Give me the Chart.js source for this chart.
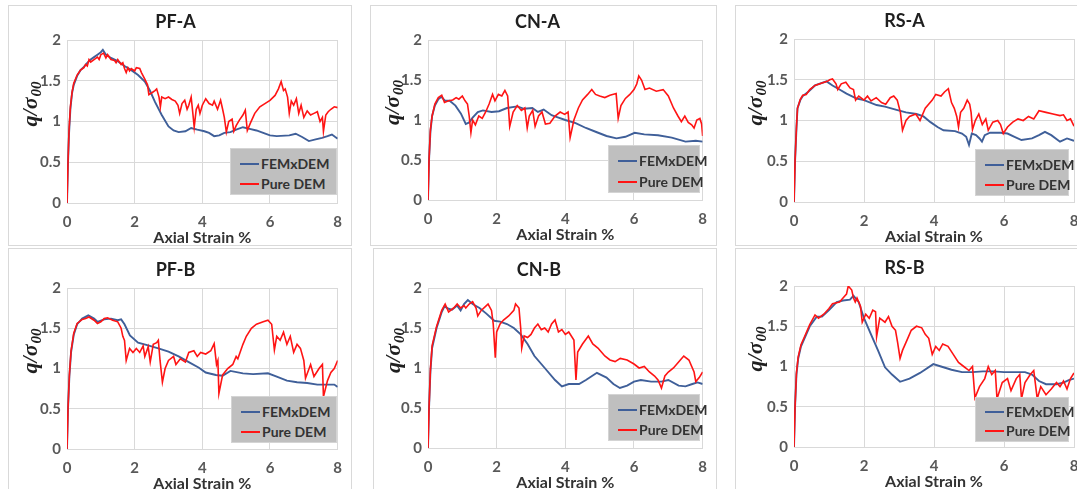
<!DOCTYPE html>
<html><head><meta charset="utf-8">
<script src="https://cdn.jsdelivr.net/npm/chart.js@4.4.1/dist/chart.umd.min.js"></script>
<style>
html,body{margin:0;padding:0;background:#fff;width:1077px;height:489px;overflow:hidden;position:relative;font-family:Lato,sans-serif;}
.box{position:absolute;border:1px solid #d9d9d9;box-sizing:border-box;background:#fff;}
canvas.cv{position:absolute;}
.leg{position:absolute;background:#bfbfbf;border:1px solid #d4d4d4;box-sizing:border-box;font:bold 14px Lato,sans-serif;color:#333;}
.leg .row{position:absolute;left:9px;height:16px;line-height:16px;display:flex;align-items:center;white-space:nowrap;}
.leg .sw{display:inline-block;width:19px;height:2px;margin-right:2px;}
</style></head><body>
<script>
// ---- data ----
const panelTitles = ['PF-A','CN-A','RS-A','PF-B','CN-B','RS-B'];
const seriesNames = ['FEMxDEM','Pure DEM'];
const xTickValues = [0,2,4,6,8];
const yTickValues = [0,0.5,1,1.5,2];
const xAxisTitle = 'Axial Strain %';
const yAxisTitle = 'q/σ';
const yAxisSub = '00';

const pfA_fem = [[0,0],[0.03,0.5],[0.06,0.85],[0.1,1.15],[0.15,1.35],[0.2,1.45],[0.3,1.56],[0.4,1.63],[0.5,1.67],[0.6,1.72],[0.7,1.76],[0.8,1.79],[0.9,1.82],[1.0,1.85],[1.06,1.88],[1.15,1.82],[1.3,1.78],[1.5,1.74],[1.7,1.68],[1.9,1.63],[2.1,1.57],[2.3,1.49],[2.45,1.38],[2.6,1.24],[2.8,1.08],[3.0,0.94],[3.15,0.89],[3.3,0.87],[3.5,0.88],[3.67,0.92],[3.85,0.9],[4.06,0.88],[4.2,0.86],[4.35,0.82],[4.5,0.83],[4.65,0.86],[4.83,0.87],[5.0,0.9],[5.2,0.93],[5.4,0.91],[5.6,0.89],[5.8,0.86],[6.0,0.83],[6.2,0.82],[6.57,0.83],[6.76,0.85],[6.95,0.81],[7.15,0.76],[7.35,0.78],[7.54,0.8],[7.7,0.82],[7.83,0.84],[7.93,0.81],[8.0,0.79]];
const pfA_dem = [[0,0],[0.03,0.5],[0.06,0.9],[0.1,1.18],[0.15,1.36],[0.2,1.47],[0.3,1.57],[0.4,1.63],[0.5,1.66],[0.55,1.7],[0.6,1.68],[0.65,1.76],[0.7,1.73],[0.8,1.76],[0.9,1.79],[0.95,1.76],[1.0,1.82],[1.08,1.84],[1.15,1.78],[1.2,1.82],[1.3,1.76],[1.4,1.75],[1.45,1.72],[1.5,1.76],[1.6,1.7],[1.65,1.72],[1.7,1.65],[1.75,1.6],[1.8,1.66],[1.85,1.62],[1.9,1.65],[2.0,1.62],[2.05,1.66],[2.15,1.65],[2.2,1.6],[2.3,1.52],[2.38,1.45],[2.42,1.33],[2.5,1.35],[2.6,1.38],[2.65,1.4],[2.72,1.3],[2.76,1.18],[2.8,1.3],[2.9,1.28],[3.0,1.3],[3.1,1.27],[3.2,1.25],[3.28,1.2],[3.33,1.1],[3.4,1.22],[3.48,1.26],[3.55,1.15],[3.6,1.2],[3.67,1.3],[3.72,1.1],[3.76,0.93],[3.82,1.15],[3.88,1.2],[3.93,1.1],[4.0,1.2],[4.1,1.28],[4.2,1.22],[4.3,1.2],[4.35,1.25],[4.45,1.15],[4.54,1.26],[4.6,1.15],[4.65,1.05],[4.71,0.87],[4.78,1.0],[4.88,1.03],[4.93,0.88],[5.0,0.95],[5.1,1.02],[5.2,1.08],[5.27,1.14],[5.33,0.89],[5.42,0.98],[5.55,1.1],[5.7,1.18],[5.85,1.22],[6.0,1.26],[6.15,1.32],[6.25,1.4],[6.33,1.49],[6.4,1.38],[6.45,1.4],[6.52,1.3],[6.57,1.1],[6.63,1.25],[6.7,1.2],[6.78,1.28],[6.85,1.1],[6.92,1.2],[7.0,1.05],[7.1,1.13],[7.2,1.08],[7.3,1.1],[7.4,1.12],[7.48,1.0],[7.55,1.05],[7.58,0.88],[7.65,1.08],[7.72,1.12],[7.8,1.15],[7.9,1.18],[8.0,1.17]];

const cnA_fem = [[0,0],[0.03,0.5],[0.07,0.85],[0.12,1.05],[0.2,1.18],[0.3,1.26],[0.39,1.29],[0.5,1.24],[0.63,1.24],[0.8,1.18],[0.96,1.08],[1.1,0.95],[1.2,0.97],[1.3,1.03],[1.45,1.1],[1.6,1.12],[1.85,1.1],[2.07,1.11],[2.3,1.15],[2.6,1.17],[2.8,1.14],[3.04,1.15],[3.2,1.1],[3.37,1.13],[3.6,1.06],[3.8,1.03],[4.0,1.0],[4.3,0.96],[4.6,0.9],[4.9,0.85],[5.2,0.8],[5.49,0.77],[5.75,0.79],[6.02,0.84],[6.3,0.82],[6.7,0.81],[7.1,0.78],[7.5,0.73],[7.8,0.74],[8.0,0.73]];
const cnA_dem = [[0,0],[0.03,0.5],[0.07,0.88],[0.12,1.05],[0.2,1.2],[0.3,1.28],[0.4,1.31],[0.48,1.22],[0.6,1.24],[0.72,1.25],[0.82,1.28],[0.9,1.26],[1.0,1.3],[1.08,1.24],[1.15,1.2],[1.2,1.05],[1.25,0.84],[1.3,1.0],[1.38,0.94],[1.48,1.05],[1.58,1.02],[1.68,1.1],[1.78,1.2],[1.88,1.32],[1.95,1.24],[2.05,1.32],[2.15,1.3],[2.24,1.37],[2.32,1.3],[2.38,0.92],[2.48,1.1],[2.6,1.18],[2.72,1.12],[2.82,1.15],[2.89,0.9],[2.95,1.05],[3.05,1.12],[3.12,0.92],[3.22,1.05],[3.32,1.1],[3.42,0.95],[3.55,0.96],[3.7,1.05],[3.85,1.1],[3.98,1.07],[4.08,1.1],[4.14,0.78],[4.25,1.0],[4.38,1.15],[4.5,1.25],[4.65,1.32],[4.77,1.38],[4.88,1.32],[5.0,1.3],[5.15,1.28],[5.3,1.31],[5.48,1.33],[5.54,1.02],[5.62,1.18],[5.75,1.27],[5.88,1.32],[6.0,1.38],[6.08,1.45],[6.14,1.55],[6.22,1.5],[6.32,1.38],[6.45,1.4],[6.65,1.36],[6.85,1.38],[7.0,1.3],[7.15,1.15],[7.28,1.05],[7.38,0.98],[7.48,1.05],[7.58,0.97],[7.68,0.94],[7.75,0.9],[7.83,1.0],[7.92,1.02],[7.97,0.95],[8.0,0.8]];

const rsA_fem = [[0,0],[0.03,0.5],[0.07,0.9],[0.1,1.15],[0.18,1.25],[0.25,1.3],[0.4,1.35],[0.6,1.43],[0.93,1.48],[1.1,1.43],[1.3,1.38],[1.5,1.33],[1.79,1.27],[2.0,1.25],[2.36,1.19],[2.6,1.17],[2.93,1.13],[3.2,1.1],[3.5,1.08],[3.7,1.05],[3.9,0.98],[4.1,0.92],[4.27,0.88],[4.6,0.87],[4.8,0.84],[4.92,0.8],[5.0,0.7],[5.08,0.84],[5.2,0.82],[5.3,0.78],[5.37,0.74],[5.45,0.82],[5.6,0.85],[5.9,0.85],[6.1,0.84],[6.3,0.8],[6.5,0.76],[6.8,0.78],[7.0,0.82],[7.17,0.86],[7.35,0.82],[7.6,0.74],[7.8,0.78],[8.0,0.75]];
const rsA_dem = [[0,0],[0.03,0.5],[0.07,0.92],[0.1,1.15],[0.18,1.26],[0.25,1.31],[0.35,1.32],[0.45,1.38],[0.6,1.43],[0.8,1.46],[0.95,1.48],[1.02,1.5],[1.1,1.51],[1.2,1.45],[1.25,1.38],[1.35,1.45],[1.48,1.47],[1.6,1.4],[1.7,1.38],[1.76,1.25],[1.85,1.3],[2.0,1.25],[2.1,1.3],[2.2,1.24],[2.35,1.28],[2.5,1.22],[2.62,1.2],[2.75,1.28],[2.85,1.3],[2.95,1.25],[3.04,1.1],[3.1,0.88],[3.2,1.0],[3.3,1.05],[3.48,1.08],[3.6,1.0],[3.75,1.15],[3.95,1.25],[4.05,1.32],[4.2,1.3],[4.3,1.35],[4.41,1.39],[4.5,1.22],[4.58,1.15],[4.65,1.05],[4.7,0.92],[4.76,1.1],[4.85,1.15],[4.95,1.25],[5.02,1.2],[5.06,1.1],[5.1,0.89],[5.18,1.0],[5.28,1.08],[5.38,0.95],[5.48,1.02],[5.55,0.88],[5.68,0.98],[5.82,1.0],[5.9,0.95],[5.98,0.84],[6.1,0.92],[6.25,0.98],[6.4,1.02],[6.55,1.0],[6.7,1.05],[6.85,1.02],[7.0,1.12],[7.2,1.1],[7.4,1.08],[7.6,1.06],[7.7,1.07],[7.8,1.0],[7.9,1.02],[8.0,0.93]];

const pfB_fem = [[0,0],[0.03,0.5],[0.07,0.9],[0.12,1.2],[0.2,1.42],[0.3,1.55],[0.45,1.62],[0.63,1.66],[0.8,1.62],[0.9,1.58],[1.1,1.61],[1.3,1.62],[1.5,1.6],[1.6,1.61],[1.7,1.55],[1.86,1.41],[2.1,1.32],[2.37,1.29],[2.7,1.25],[3.0,1.21],[3.3,1.15],[3.6,1.08],[3.9,1.01],[4.1,0.95],[4.4,0.92],[4.6,0.91],[4.83,0.97],[5.2,0.94],[5.5,0.93],[5.94,0.94],[6.2,0.9],[6.5,0.85],[6.8,0.83],[7.1,0.82],[7.4,0.8],[7.7,0.8],[7.9,0.8],[8.0,0.77]];
const pfB_dem = [[0,0],[0.03,0.5],[0.07,0.92],[0.12,1.22],[0.2,1.44],[0.3,1.56],[0.45,1.61],[0.55,1.62],[0.65,1.64],[0.8,1.6],[0.9,1.56],[1.0,1.58],[1.1,1.62],[1.2,1.63],[1.35,1.6],[1.5,1.58],[1.6,1.5],[1.65,1.4],[1.7,1.35],[1.75,1.1],[1.85,1.25],[1.95,1.2],[2.05,1.25],[2.15,1.2],[2.25,1.28],[2.3,1.15],[2.4,1.27],[2.46,1.08],[2.55,1.3],[2.65,1.32],[2.7,1.35],[2.75,1.1],[2.82,0.83],[2.9,1.0],[3.0,1.1],[3.15,1.15],[3.22,1.05],[3.35,1.12],[3.5,1.08],[3.6,1.2],[3.75,1.22],[3.85,1.15],[3.95,1.2],[4.1,1.18],[4.25,1.22],[4.35,1.31],[4.42,1.05],[4.46,1.1],[4.49,0.69],[4.6,0.92],[4.75,1.0],[4.9,1.05],[5.0,1.15],[5.05,1.12],[5.2,1.3],[5.3,1.4],[5.45,1.5],[5.6,1.55],[5.8,1.58],[5.94,1.6],[6.05,1.55],[6.13,1.23],[6.2,1.4],[6.3,1.35],[6.4,1.45],[6.5,1.3],[6.6,1.4],[6.7,1.2],[6.8,1.3],[6.9,1.25],[7.0,1.1],[7.05,0.88],[7.2,1.05],[7.3,0.9],[7.45,1.0],[7.55,1.05],[7.58,0.65],[7.7,0.85],[7.8,0.95],[7.9,1.0],[8.0,1.1]];

const cnB_fem = [[0,0],[0.03,0.5],[0.07,0.95],[0.12,1.25],[0.25,1.5],[0.4,1.7],[0.48,1.77],[0.6,1.74],[0.7,1.73],[0.85,1.78],[0.95,1.72],[1.05,1.8],[1.16,1.85],[1.3,1.8],[1.5,1.75],[1.7,1.68],[1.93,1.59],[2.1,1.58],[2.3,1.55],[2.5,1.5],[2.7,1.42],[2.9,1.3],[3.1,1.15],[3.4,1.0],[3.7,0.85],[3.9,0.77],[4.1,0.8],[4.4,0.8],[4.6,0.85],[4.92,0.94],[5.2,0.88],[5.4,0.8],[5.59,0.75],[5.8,0.78],[6.0,0.83],[6.2,0.85],[6.5,0.83],[6.8,0.83],[7.0,0.85],[7.3,0.78],[7.5,0.77],[7.7,0.8],[7.85,0.82],[8.0,0.8]];
const cnB_dem = [[0,0],[0.03,0.5],[0.07,0.98],[0.12,1.28],[0.25,1.52],[0.4,1.72],[0.5,1.8],[0.6,1.7],[0.75,1.75],[0.85,1.8],[0.95,1.75],[1.05,1.78],[1.1,1.75],[1.2,1.8],[1.3,1.83],[1.4,1.75],[1.45,1.65],[1.55,1.72],[1.7,1.78],[1.75,1.8],[1.85,1.72],[1.9,1.55],[1.96,1.13],[2.0,1.45],[2.1,1.55],[2.2,1.6],[2.35,1.65],[2.5,1.72],[2.55,1.8],[2.65,1.75],[2.7,1.5],[2.73,1.25],[2.8,1.4],[2.9,1.38],[3.0,1.42],[3.1,1.5],[3.2,1.55],[3.3,1.48],[3.4,1.5],[3.5,1.45],[3.6,1.55],[3.7,1.6],[3.8,1.45],[3.9,1.48],[4.0,1.42],[4.1,1.45],[4.25,1.35],[4.31,0.85],[4.36,1.2],[4.5,1.3],[4.67,1.4],[4.8,1.3],[4.95,1.25],[5.05,1.2],[5.15,1.15],[5.3,1.1],[5.45,1.08],[5.6,1.12],[5.8,1.1],[6.0,1.05],[6.15,1.0],[6.3,1.02],[6.45,0.95],[6.6,0.9],[6.7,0.85],[6.8,0.75],[6.9,0.9],[7.0,0.95],[7.15,1.0],[7.35,1.1],[7.45,1.15],[7.6,1.1],[7.75,0.95],[7.8,0.83],[7.9,0.88],[8.0,0.95]];

const rsB_fem = [[0,0],[0.03,0.5],[0.07,0.9],[0.12,1.1],[0.2,1.25],[0.3,1.35],[0.45,1.5],[0.65,1.62],[0.8,1.62],[1.0,1.7],[1.22,1.8],[1.4,1.82],[1.6,1.83],[1.7,1.88],[1.85,1.8],[2.0,1.6],[2.2,1.4],[2.4,1.2],[2.6,0.99],[2.8,0.9],[3.03,0.81],[3.3,0.85],[3.6,0.92],[3.98,1.03],[4.2,1.0],[4.5,0.96],[4.8,0.93],[5.1,0.93],[5.4,0.94],[5.7,0.94],[6.0,0.93],[6.3,0.93],[6.6,0.93],[6.8,0.9],[7.0,0.82],[7.2,0.78],[7.5,0.78],[7.7,0.8],[7.85,0.83],[8.0,0.85]];
const rsB_dem = [[0,0],[0.03,0.5],[0.07,0.92],[0.12,1.12],[0.2,1.27],[0.3,1.37],[0.45,1.52],[0.6,1.64],[0.7,1.6],[0.85,1.65],[1.0,1.72],[1.1,1.78],[1.3,1.8],[1.4,1.85],[1.5,1.9],[1.55,2.0],[1.65,1.95],[1.7,1.85],[1.75,1.8],[1.8,1.85],[1.9,1.75],[1.95,1.55],[2.05,1.65],[2.15,1.6],[2.25,1.7],[2.33,1.68],[2.36,1.37],[2.45,1.6],[2.6,1.55],[2.7,1.62],[2.8,1.5],[2.9,1.45],[2.96,1.3],[3.03,1.1],[3.1,1.2],[3.25,1.35],[3.35,1.45],[3.5,1.5],[3.65,1.48],[3.75,1.4],[3.85,1.35],[3.95,1.15],[4.05,1.25],[4.15,1.2],[4.25,1.28],[4.4,1.25],[4.55,1.15],[4.7,1.05],[4.85,1.0],[5.0,0.95],[5.1,1.0],[5.17,0.61],[5.3,0.75],[5.45,0.85],[5.55,1.0],[5.65,0.9],[5.75,0.95],[5.8,0.6],[5.95,0.8],[6.1,0.85],[6.2,0.7],[6.35,0.85],[6.45,0.9],[6.5,0.6],[6.6,0.8],[6.75,0.9],[6.85,0.95],[6.95,0.6],[7.05,0.75],[7.2,0.65],[7.35,0.72],[7.5,0.8],[7.6,0.75],[7.7,0.82],[7.8,0.72],[7.9,0.85],[8.0,0.92]];

const femSeries = [pfA_fem, cnA_fem, rsA_fem, pfB_fem, cnB_fem, rsB_fem];
const demSeries = [pfA_dem, cnA_dem, rsA_dem, pfB_dem, cnB_dem, rsB_dem];

// ---- layout (page pixels) ----
const layouts = [
  {box:[8,5,344,241],   area:[67,343,40,203],   leg:[230,148,107,47], ytx:22},
  {box:[370,5,347,241], area:[428,705,40,200],  leg:[608,145,92,48],  ytx:22},
  {box:[735,5,360,241], area:[794,1074,39,202], leg:[975,149,94,47],  ytx:20},
  {box:[8,248,344,260], area:[67,343,288,449],  leg:[231,396,106,47], ytx:22},
  {box:[373,248,344,260],area:[428,705,288,448],leg:[608,394,92,47],  ytx:20},
  {box:[735,248,360,260],area:[794,1074,286,447],leg:[975,397,94,45], ytx:20}
];
const colors = {fem:'#3f5f99', dem:'#ff1414', grid:'#d9d9d9', tick:'#595959', text:'#1f1f1f'};

const yTitlePlugin = {
  id:'yTitle',
  afterDraw(chart, args, opts){
    const {ctx, chartArea} = chart;
    const cy = (chartArea.top + chartArea.bottom)/2 - 17;
    ctx.save();
    ctx.translate(opts.x, cy);
    ctx.rotate(-Math.PI/2);
    ctx.fillStyle = colors.text;
    const main = 'italic bold 22px "Liberation Serif"';
    const sub = 'italic bold 15px "Liberation Serif"';
    ctx.font = main; const w1 = ctx.measureText(opts.text).width;
    ctx.font = sub; const w2 = ctx.measureText(opts.sub).width;
    const x = -(w1 + w2)/2;
    ctx.textBaseline = 'alphabetic';
    ctx.textAlign = 'left';
    ctx.font = main; ctx.fillText(opts.text, x, 7);
    ctx.font = sub; ctx.fillText(opts.sub, x + w1 + 1, 11);
    ctx.restore();
  }
};

const toPts = arr => arr.map(p => ({x:p[0], y:p[1]}));

panelTitles.forEach((title, i) => {
  const L = layouts[i];
  const [bl, bt, bw, bh] = L.box;
  const [x0, x8, yTop, yBot] = L.area;

  const box = document.createElement('div');
  box.className = 'box';
  Object.assign(box.style, {left:bl+'px', top:bt+'px', width:bw+'px', height:bh+'px'});
  document.body.appendChild(box);

  const cw = bw, ch = (yBot + 44) - bt;
  const cv = document.createElement('canvas');
  cv.className = 'cv';
  cv.width = cw; cv.height = ch;
  Object.assign(cv.style, {left:bl+'px', top:bt+'px', width:cw+'px', height:ch+'px'});
  document.body.appendChild(cv);

  const tickFont = {family:'Lato', size:15, weight:'bold', lineHeight:1.2};
  new Chart(cv.getContext('2d'), {
    type:'line',
    data:{datasets:[
      {label:seriesNames[0], data:toPts(femSeries[i]), borderColor:colors.fem, borderWidth:1.9, pointRadius:0, tension:0, order:2},
      {label:seriesNames[1], data:toPts(demSeries[i]), borderColor:colors.dem, borderWidth:1.6, pointRadius:0, tension:0, order:1}
    ]},
    options:{
      responsive:false, animation:false, devicePixelRatio:1,
      layout:{padding:{left:0, top:0, bottom:0, right: cw - (x8 - bl)}},
      plugins:{
        legend:{display:false}, tooltip:{enabled:false},
        title:{display:true, text:title, color:colors.text,
          font:{family:'Lato', size:18, weight:'bold', lineHeight:1.2},
          padding:{top:(yTop - bt) - 18 - 10.8, bottom:18 - 10.8}},
        yTitle:{x:L.ytx, text:yAxisTitle, sub:yAxisSub}
      },
      scales:{
        x:{type:'linear', min:0, max:8,
          afterBuildTicks:s => { s.ticks = xTickValues.map(v => ({value:v})); },
          afterFit:s => { s.height = ch - (yBot - bt); },
          grid:{color:colors.grid, drawTicks:false, lineWidth:1},
          border:{color:colors.grid},
          ticks:{font:tickFont, color:colors.tick, padding:10, maxRotation:0, callback:v => String(v)},
          title:{display:true, text:xAxisTitle, color:'#333',
            font:{family:'Lato', size:16, weight:'bold', lineHeight:1}, padding:{top:0, bottom:1}}
        },
        y:{type:'linear', min:0, max:2,
          afterBuildTicks:s => { s.ticks = yTickValues.map(v => ({value:v})); },
          afterFit:s => { s.width = x0 - bl; },
          grid:{color:colors.grid, drawTicks:false, lineWidth:1},
          border:{color:colors.grid},
          ticks:{font:tickFont, color:colors.tick, padding:6, callback:v => String(v)}
        }
      }
    },
    plugins:[yTitlePlugin]
  });

  const [ll, lt, lw, lh] = L.leg;
  const leg = document.createElement('div');
  leg.className = 'leg';
  Object.assign(leg.style, {left:ll+'px', top:lt+'px', width:lw+'px', height:lh+'px'});
  leg.innerHTML =
    '<div class="row" style="top:' + Math.round(lh*0.32 - 8) + 'px"><span class="sw" style="background:' + colors.fem + '"></span>' + seriesNames[0] + '</div>' +
    '<div class="row" style="top:' + Math.round(lh*0.74 - 8) + 'px"><span class="sw" style="background:' + colors.dem + '"></span>' + seriesNames[1] + '</div>';
  document.body.appendChild(leg);
});
</script>
</body></html>
